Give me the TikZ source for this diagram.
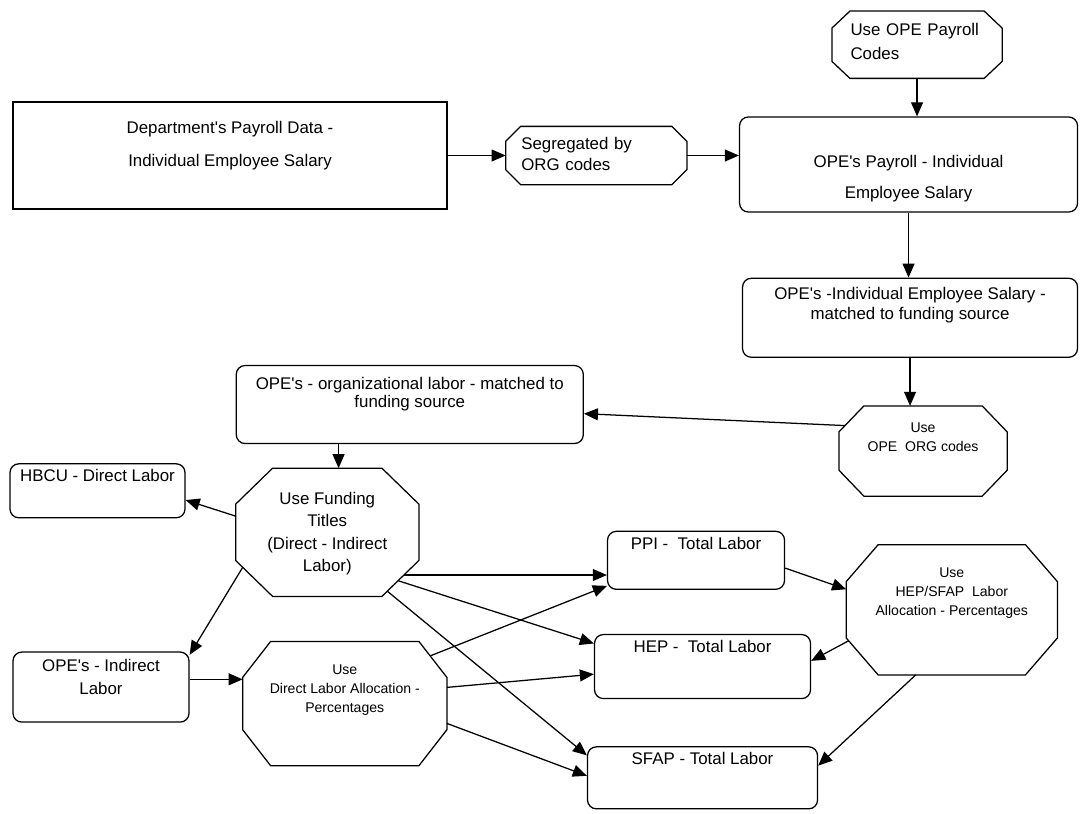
\documentclass[tikz,border=0pt]{standalone}
\usepackage{fontspec}
\setmainfont{Liberation Sans}
\usetikzlibrary{positioning,calc,arrows.meta}
\newcommand\rnd{0.22cm}
\newcommand\bigtxt{\fontsize{12}{15}\selectfont}
\newcommand\smltxt{\fontsize{10}{13.5}\selectfont}
\newcommand\ap{\textquotesingle}

\tikzset{
  box/.style={draw, rounded corners=\rnd, inner sep=0pt, align=center, font=\bigtxt},
  flat/.style={draw, inner sep=0pt, align=center, font=\bigtxt},
  % octagon drawn round the node: #1 = cut along x, #2 = cut along y
  octa/.style 2 args={inner sep=0pt, align=center, font=\bigtxt,
    append after command={\pgfextra{\draw
      ($(\tikzlastnode.north west)+(#1,0)$) -- ($(\tikzlastnode.north east)+(-#1,0)$) --
      ($(\tikzlastnode.north east)+(0,-#2)$) -- ($(\tikzlastnode.south east)+(0,#2)$) --
      ($(\tikzlastnode.south east)+(-#1,0)$) -- ($(\tikzlastnode.south west)+(#1,0)$) --
      ($(\tikzlastnode.south west)+(0,#2)$) -- ($(\tikzlastnode.north west)+(0,-#2)$) -- cycle;}}},
  smalltext/.style={font=\smltxt},
  arr/.style={-{Triangle[length=10pt,width=8.5pt]}},
}

\begin{document}
\begin{tikzpicture}[line width=0.9pt]
  \useasboundingbox (0,0) rectangle (27,-20.325);
  % payroll chain
  \node[flat, minimum width=10.85cm, text height=1.6cm, text depth=1.075cm] (dept) at (5.75,-3.8875)
    {Department\ap s Payroll Data -\\[8.4pt] Individual Employee Salary};
  \node[octa={0.375cm}{0.375cm}, right=1.45cm of dept, text width=3.75cm, inner xsep=0.375cm, align=left,
    text height=0.55cm, text depth=0.875cm] (seg) {Segregated by\\ ORG codes};
  \node[box, minimum width=8.45cm, right=1.3cm of seg, yshift=-0.225cm,
    text height=2.025cm, text depth=0.35cm] (opepay) {OPE\ap s Payroll - Individual\\[7pt] Employee Salary};
  \node[octa={0.45cm}{0.425cm}, above=0.95cm of opepay, xshift=0.2125cm, text width=3.325cm,
    inner xsep=0.45cm, align=left, text height=0.6cm, text depth=1.05cm] (useopay) {Use OPE Payroll\\[2pt] Codes};
  \node[box, minimum width=8.375cm, below=1.625cm of opepay, xshift=0.0375cm,
    text height=1.025cm, text depth=0.95cm] (matched) {OPE\ap s -Individual Employee Salary -\\[-0.8pt] matched to funding source};
  \node[octa={0.625cm}{0.65cm}, smalltext, minimum width=4.175cm, below=1.2cm of matched, xshift=0.325cm,
    text height=1.125cm, text depth=1.1cm] (useorg) {Use\\ OPE\ \ ORG codes};
  \node[box, minimum width=8.675cm, left=6.375cm of useorg, yshift=1.1625cm,
    text height=1.05cm, text depth=0.9cm] (orglab) {OPE\ap s - organizational labor - matched to\\[-2pt] funding source};
  % funding split
  \node[octa={0.925cm}{0.9cm}, minimum width=4.55cm, below=0.6cm of orglab, xshift=-2.0625cm,
    font=\fontsize{12}{16}\selectfont, text height=2.575cm, text depth=0.6cm] (usefund)
    {Use Funding\\ Titles\\ (Direct - Indirect\\ Labor)};
  \node[box, minimum width=4.375cm, left=1.25cm of usefund, yshift=1.0375cm,
    text height=0.45cm, text depth=0.9cm] (hbcu) {HBCU - Direct Labor};
  \node[box, minimum width=4.4cm, below=3.325cm of hbcu, xshift=0.0875cm,
    text height=1.05cm, text depth=0.7cm] (opeind) {OPE\ap s - Indirect\\[1pt] Labor};
  \node[octa={0.7cm}{0.9cm}, smalltext, minimum width=5.075cm, right=1.325cm of opeind, yshift=-0.4125cm,
    text height=1.75cm, text depth=1.325cm] (usedir) {Use\\ Direct Labor Allocation -\\ Percentages};
  % total labor boxes
  \node[box, minimum width=4.425cm, right=4.7cm of usefund, yshift=-0.7cm,
    text height=0.45cm, text depth=1cm] (ppi) {PPI -\ \ Total Labor};
  \node[box, minimum width=5.4cm, below=1.1cm of ppi, xshift=0.1625cm,
    text height=0.45cm, text depth=1.15cm] (hep) {HEP -\ \ Total Labor};
  \node[box, minimum width=5.75cm, below=1.175cm of hep,
    text height=0.45cm, text depth=1.1cm] (sfap) {SFAP - Total Labor};
  \node[octa={0.8cm}{0.925cm}, smalltext, minimum width=5.25cm, right=1.525cm of ppi, yshift=-1.2375cm,
    text height=1.75cm, text depth=1.475cm] (usehep) {Use\\ HEP/SFAP\ \ Labor\\ Allocation - Percentages};

  \draw[arr] (dept.east) -- (dept.east -| seg.west);
  \draw[arr] (seg.east) -- (seg.east -| opepay.west);
  \draw[arr] (useopay.south) -- (useopay.south |- opepay.north);
  \draw[arr] (opepay.south) -- (opepay.south |- matched.north);
  \draw[arr] (matched.south) -- (matched.south |- useorg.north);
  \draw[arr, shorten <=-4.6pt] (useorg.163) -- (orglab.-3);
  \draw[arr] (orglab.south -| usefund.80) -- (usefund.80);
  \draw[arr] (usefund.170) -- (hbcu.-6);
  \draw[arr, shorten <=-9.9pt] (usefund.207) -- (opeind.20);
  \draw[arr] (opeind.5) -- (opeind.5 -| usedir.west);
  % to the total labor boxes
  \draw[arr, shorten <=-10.9pt] (usefund.-25) -- (usefund.-25 -| ppi.west);
  \draw[arr, shorten <=-15.6pt] (usefund.-31) -- (hep.168);
  \draw[arr, shorten <=-5.8pt] (usefund.-44) -- (sfap.169);
  \draw[arr, shorten <=-13pt] (usedir.28) -- (ppi.196);
  \draw[arr] (usedir.9) -- (hep.184);
  \draw[arr] (usedir.-11) -- (sfap.179);
  \draw[arr] (ppi.-5) -- (usehep.169);
  \draw[arr, shorten <=-2.2pt] (usehep.197) -- (hep.3);
  \draw[arr] (usehep.241) -- (sfap.6);
\end{tikzpicture}
\end{document}
